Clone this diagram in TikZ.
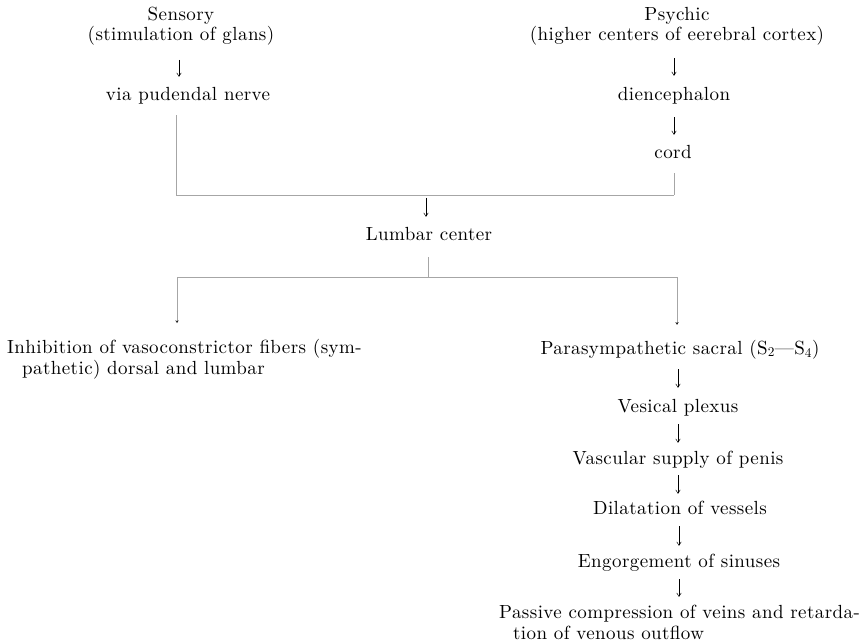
\documentclass[tikz,border=0pt]{standalone}
\usepackage{fontspec}
\setmainfont{lmroman10-regular.otf}[LetterSpace=2.2]
\usetikzlibrary{arrows.meta}
\begin{document}
\begin{tikzpicture}[x=1pt,y=-1pt,
  base/.style={inner sep=0pt, font=\fontsize{19}{20.5}\selectfont},
  sl/.style={base, text height=13pt, text depth=4pt, anchor=base},
  ml/.style={base, align=center, anchor=base},
  arr/.style={line width=0.5pt, draw=black, -{Straight Barb[length=3.5pt,width=4.5pt]}},
  link/.style={line width=0.6pt, draw=black!35},
  tipd/.style={-{Straight Barb[length=2pt,width=2.5pt,color=black]}}]
\useasboundingbox (0,0) rectangle (859,644);
% nodes (multi-line nodes are placed by the baseline of their last line)
\node[ml] (sens) at (181,41) {Sensory\\(stimulation of glans)};
\node[sl] (pud) at (188,101) {via pudendal nerve};
\node[ml] (psy) at (677,41) {Psychic\\(higher centers of eerebral cortex)};
\node[sl] (die) at (674,101) {diencephalon};
\node[sl] (cord) at (673,159) {cord};
\node[sl] (lum) at (429,241) {Lumbar center};
\node[ml, align=left, anchor=base west] (inh) at (7,374) {Inhibition of vasoconstrictor fibers (sym-\\\hspace*{15pt}pathetic) dorsal and lumbar};
\node[sl] (para) at (680,354) {Parasympathetic sacral (S\textsubscript{2}---S\textsubscript{4})};
\node[sl] (ves) at (678,412) {Vesical plexus};
\node[sl] (vas) at (678,464) {Vascular supply of penis};
\node[sl] (dil) at (680,514) {Dilatation of vessels};
\node[sl] (eng) at (679,567) {Engorgement of sinuses};
\node[ml, align=left, anchor=base west] (pas) at (499,639) {Passive compression of veins and retarda-\\\hspace*{14pt}tion of venous outflow};
% junction coordinates
\coordinate (tl) at (176,195);
\coordinate (tr) at (674,195);
\coordinate (jm) at (426,195);
\coordinate (lj) at (428,277);
\coordinate (bl) at (177,277);
\coordinate (br) at (677,277);
% arrows
\draw[arr, shorten <=14pt, shorten >=11pt] (sens.south -| 179,0) -- (pud.north -| 179,0);
\draw[arr, shorten <=12pt, shorten >=12pt] (psy.south -| die.north) -- (die.north);
\draw[arr, shorten <=12pt, shorten >=11pt] (die.south) -- (die.south |- cord.north);
\draw[arr, shorten <=3pt, shorten >=11pt] (jm) -- (jm |- lum.north);
\draw[arr, shorten <=11pt, shorten >=11pt] (para.south -| ves.north) -- (ves.north);
\draw[arr, shorten <=8pt, shorten >=8pt] (ves.south) -- (ves.south |- vas.north);
\draw[arr, shorten <=7pt, shorten >=7pt] (vas.south) -- (vas.south |- dil.north);
\draw[arr, shorten <=8pt, shorten >=8pt] (dil.south -| eng.north) -- (eng.north);
\draw[arr, shorten <=8pt, shorten >=8pt] (eng.south) -- (eng.south |- pas.north);
% links
\draw[link, shorten <=10pt] (tl |- pud.south) -- (tl) -- (tr);
\draw[link, shorten <=10pt] (tr |- cord.south) -- (tr);
\draw[link, shorten <=12pt] (lj |- lum.south) -- (lj);
\draw[link] (bl) -- (br);
\draw[link, tipd, shorten >=16pt] (bl) -- (bl |- inh.north);
\draw[link, tipd, shorten >=16pt] (br) -- (br |- para.north);
\end{tikzpicture}
\end{document}
